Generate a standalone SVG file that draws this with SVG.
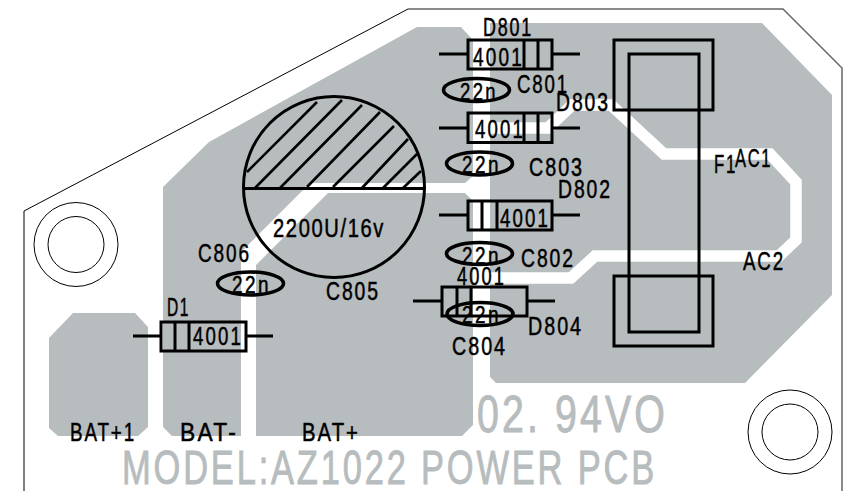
<svg xmlns="http://www.w3.org/2000/svg" width="858" height="491" viewBox="0 0 858 491">
<style>
text{font-family:"Liberation Sans",Arial,sans-serif;fill:#000;stroke:#000;stroke-width:.5px}
.l{font-size:25px;letter-spacing:2.5px}
.v{font-size:26px;letter-spacing:3px}
.n{font-size:23px;letter-spacing:3px}
.s{font-size:25px;letter-spacing:2px}
text.m{fill:#b7bcbe;stroke:#b7bcbe;stroke-width:.9px;letter-spacing:4px}
.cu{fill:#b7bcbe}
.gap{fill:none;stroke:#fff;stroke-linejoin:miter}
.hole{fill:none;stroke:#000;stroke-width:1}
.b{fill:none;stroke:#000;stroke-width:3}
.h{fill:none;stroke:#000;stroke-width:2.6}
.e{fill:none;stroke:#000;stroke-width:3.6}
</style>
<rect width="858" height="491" fill="#fff"/>
<g id="copper">
<polygon class="cu" points="417,27 461,27 473,40 473,425 462,436 172,436 163,427 163,187 209,142"/>
<polygon class="cu" points="490,23 762,23 832,95 832,295 745,383 496,383 490,377"/>
<polygon class="cu" points="73,313 135,313 148,327 148,427 138,436 58,436 49,428 49,338"/>
<polygon points="241,440 256,440 256,265 328,193 465,193 473,201 473,176 465,183 310,183 241,252" fill="#fff"/>
<path class="gap" stroke-width="11.500" d="M480,128H548L572,105H611L664,154H770L796,182V240L779,256H595L571,278H480"/>
</g>
<g id="board-outline" fill="none">
<path d="M24,491V211L408,9" stroke="#000" stroke-width="1"/>
<path d="M408,9H783L842,68V491" stroke="#666" stroke-width="1.500"/>
</g>
<g id="mount-holes">
<circle class="hole" cx="76" cy="244.500" r="42"/><circle class="hole" cx="76" cy="244.500" r="28"/>
<circle class="hole" cx="790" cy="432" r="42"/><circle class="hole" cx="790" cy="432" r="28"/>
</g>
<g id="silkscreen">
<text x="122" y="484" class="m" font-size="49" textLength="535" lengthAdjust="spacingAndGlyphs">MODEL:AZ1022 POWER PCB</text>
<text x="477" y="432" class="m" font-size="51" textLength="191" lengthAdjust="spacingAndGlyphs">02. 94VO</text>
</g>
<g id="connectors" fill="none" stroke="#000" stroke-width="3">
<path d="M439,54H468M552,54H580"/>
<path d="M439,128H468M552,128H580"/>
<path d="M439,215H468M552,215H580"/>
<path d="M413,301H442M527,301H555"/>
<path d="M133,336H161M246,336H273"/>
</g>
<g id="C805">
<circle cx="334" cy="187" r="90.500" class="b"/>
<path class="b" d="M243,188.500H425"/>
<path class="h" d="M255,188L342,100M247,172L317,102M280,188L362,105M307,187L380,112M333,187L394,126M362,188L408,139M383,188L417,154M403,188L421,171"/>
<text x="273" y="237" class="s" textLength="112" lengthAdjust="spacingAndGlyphs">2200U/16v</text>
<text x="326" y="300" class="l" textLength="54" lengthAdjust="spacingAndGlyphs">C805</text>
</g>
<g id="D801">
<rect x="468" y="40" width="84" height="29" class="b"/><path class="b" d="M524,40V69M538,40V69"/>
<text x="473" y="66" class="v" textLength="51" lengthAdjust="spacingAndGlyphs">4001</text>
<text x="483" y="36" class="l" textLength="50" lengthAdjust="spacingAndGlyphs">D801</text>
</g>
<g id="C801">
<ellipse cx="476.500" cy="90" rx="33" ry="11.500" class="e"/>
<text x="460" y="100" class="n" textLength="38" lengthAdjust="spacingAndGlyphs">22n</text>
<text x="517" y="93" class="l" textLength="52" lengthAdjust="spacingAndGlyphs">C801</text>
</g>
<g id="D803">
<rect x="468" y="113" width="84" height="29.500" class="b"/><path class="b" d="M524,113V142M538,113V142"/>
<text x="475" y="138" class="v" textLength="50" lengthAdjust="spacingAndGlyphs">4001</text>
<text x="556" y="111" class="l" textLength="54" lengthAdjust="spacingAndGlyphs">D803</text>
</g>
<g id="C803">
<ellipse cx="479.500" cy="163.500" rx="33" ry="11.500" class="e"/>
<text x="462" y="173" class="n" textLength="39" lengthAdjust="spacingAndGlyphs">22n</text>
<text x="529" y="176" class="l" textLength="55" lengthAdjust="spacingAndGlyphs">C803</text>
</g>
<g id="D802">
<rect x="468" y="201" width="84" height="29" class="b"/><path class="b" d="M482,201V230M497,201V230"/>
<text x="500" y="227" class="v" textLength="50" lengthAdjust="spacingAndGlyphs">4001</text>
<text x="558" y="198" class="l" textLength="54" lengthAdjust="spacingAndGlyphs">D802</text>
</g>
<g id="C802">
<ellipse cx="479.500" cy="253.500" rx="33" ry="11" class="e"/>
<text x="462" y="264" class="n" textLength="39" lengthAdjust="spacingAndGlyphs">22n</text>
<text x="521" y="267" class="l" textLength="54" lengthAdjust="spacingAndGlyphs">C802</text>
</g>
<g id="D804">
<rect x="442" y="287" width="85" height="29" class="b"/><path class="b" d="M457,287V316M471,287V316"/>
<text x="457" y="285" class="v" textLength="49" lengthAdjust="spacingAndGlyphs">4001</text>
<text x="528" y="335" class="l" textLength="55" lengthAdjust="spacingAndGlyphs">D804</text>
</g>
<g id="C804">
<ellipse cx="480" cy="314" rx="33" ry="11.500" class="e"/>
<text x="462" y="323" class="n" textLength="39" lengthAdjust="spacingAndGlyphs">22n</text>
<text x="452" y="355" class="l" textLength="55" lengthAdjust="spacingAndGlyphs">C804</text>
</g>
<g id="C806">
<ellipse cx="250.500" cy="283.500" rx="33" ry="11.500" class="e"/>
<text x="232" y="293" class="n" textLength="39" lengthAdjust="spacingAndGlyphs">22n</text>
<text x="198" y="262" class="l" textLength="53" lengthAdjust="spacingAndGlyphs">C806</text>
</g>
<g id="D1">
<rect x="161" y="322" width="85" height="29" class="b"/><path class="b" d="M175,322V351M189,322V351"/>
<text x="193" y="345" class="v" textLength="50" lengthAdjust="spacingAndGlyphs">4001</text>
<text x="167" y="316" class="l" textLength="23" lengthAdjust="spacingAndGlyphs">D1</text>
</g>
<g id="F1">
<rect x="614" y="40" width="99" height="70" class="b"/>
<rect x="614" y="276" width="99" height="70" class="b"/>
<rect x="629" y="54" width="70" height="278" class="b"/>
<text x="714" y="173" class="l" textLength="23" lengthAdjust="spacingAndGlyphs">F1</text>
</g>
<g id="terminals">
<text x="735" y="167" class="l" textLength="37" lengthAdjust="spacingAndGlyphs">AC1</text>
<text x="743" y="270" class="l" textLength="42" lengthAdjust="spacingAndGlyphs">AC2</text>
<text x="70" y="441" class="l" textLength="66" lengthAdjust="spacingAndGlyphs">BAT+1</text>
<text x="180" y="441" class="l" textLength="58" lengthAdjust="spacingAndGlyphs">BAT-</text>
<text x="302" y="441" class="l" textLength="58" lengthAdjust="spacingAndGlyphs">BAT+</text>
</g>
</svg>
